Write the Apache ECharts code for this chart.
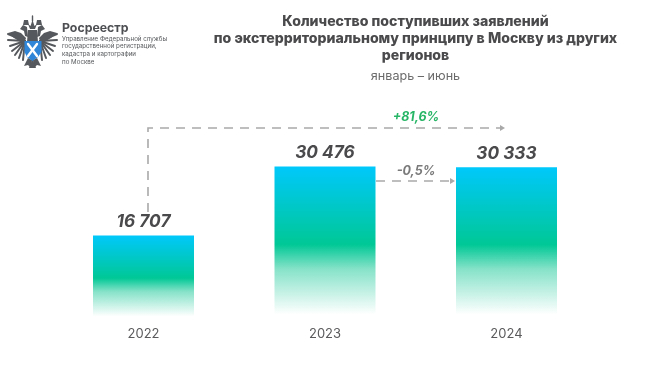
<!DOCTYPE html>
<html><head><meta charset="utf-8">
<style>html,body{margin:0;padding:0;background:#fff}#c{width:650px;height:373px}</style>
<script src="https://cdn.jsdelivr.net/npm/echarts@6/dist/echarts.min.js"></script>
</head><body><div id="c"></div>
<script>
const categories = ['2022','2023','2024'];
const values = [16707,30476,30333];
const valueLabels = ['16 707','30 476','30 333'];
const titleLines = ['Количество поступивших заявлений','по экстерриториальному принципу в Москву из других','регионов'];
const subtitle = 'январь – июнь';
const orgName = 'Росреестр';
const orgLines = ['Управление Федеральной службы','государственной регистрации,','кадастра и картографии','по Москве'];
const FONT = 'Inter';
const chart = echarts.init(document.getElementById('c'),null,{renderer:'canvas'});
const dark='#4a4a4c', grey='#a9a9a9', eagle='#55585c';
const text=(x,y,t,o)=>({type:'text',x,y,style:Object.assign({text:t,fontFamily:FONT,textAlign:'center',textVerticalAlign:'middle',fill:dark},o)});
const mirror=p=>p.map(q=>[65-q[0],q[1]]);
const poly=(pts,fill)=>({type:'polygon',shape:{points:pts},style:{fill}});
const stroke=(a,b,w,c)=>({type:'line',shape:{x1:a[0],y1:a[1],x2:b[0],y2:b[1]},style:{stroke:c||eagle,lineWidth:w,lineCap:'round'}});
const shoulder=[25,41];
const tips=[[8,34],[8,40],[10,46],[12,51],[15,55],[19,58],[23,60]];
const emblem=[];
tips.forEach(t=>{[[shoulder,t]].forEach(l=>{emblem.push(stroke(l[0],l[1],2));emblem.push(stroke([65-l[0][0],l[0][1]],[65-l[1][0],l[1][1]],2));});});
const shapes=[
 [[8,33],[15,31],[21,33],[26,38],[24,44],[14,38]],      // upper wing
 [[20,29],[23,25],[27,27],[28,37],[25,36],[24,31]],      // neck and head
 [[24,20],[28,20],[29,25],[23,25]],                      // side crown
 [[28,58],[24,66],[28,65],[31,68],[32,60]]               // tail and claw
];
shapes.forEach(s=>{emblem.push(poly(s,eagle));emblem.push(poly(mirror(s),eagle));});
emblem.push(poly([[28,24],[30,29],[35,29],[37,24],[34.5,26],[32.5,20],[30.5,26]],eagle));
emblem.push(stroke([32.5,16],[32.5,21],1.4));
emblem.push(poly([[28,30],[37,30],[38,42],[27,42]],eagle));
emblem.push(poly([[32,60],[33,60],[36,68],[29,68]],eagle));
emblem.push(poly([[24.5,41],[41.5,41],[41.5,52],[38,57],[32.5,61],[27,57],[24.5,52]],'#2f86d8'));
emblem.push(stroke([28,44],[37,56],2.4,'#fff'));
emblem.push(stroke([37,44],[28,56],2.4,'#fff'));
const dash=(pts)=>({type:'polyline',shape:{points:pts},style:{stroke:grey,lineWidth:1.6,lineDash:[9,7],fill:null}});
const head=(x,y)=>poly([[x,y-3],[x+5,y],[x,y+3]],grey);
chart.setOption({
 animation:false,
 backgroundColor:'#fff',
 grid:{left:52.75,width:544.5,top:119,height:200},
 xAxis:{type:'category',data:categories,axisLine:{show:false},axisTick:{show:false},
  axisLabel:{margin:9,fontFamily:FONT,fontSize:13,color:'#5a5a5c'}},
 yAxis:{type:'value',min:0,max:40000,show:false},
 series:[{type:'bar',barWidth:101,data:values,
  itemStyle:{color:{type:'linear',x:0,y:0,x2:0,y2:1,colorStops:[
   {offset:0,color:'#00c8fb'},{offset:0.51,color:'#00c896'},{offset:0.67,color:'#85e2c8'},{offset:0.97,color:'#ffffff'}]}},
  label:{show:true,position:'top',distance:5,formatter:p=>valueLabels[p.dataIndex],
   fontFamily:FONT,fontStyle:'italic',fontWeight:700,fontSize:17.3,color:dark}}],
 graphic:[
  ...emblem,
  text(62,28.5,orgName,{textAlign:'left',fontSize:12.3,fontWeight:700,fill:'#4d4f52'}),
  ...orgLines.map((t,i)=>text(62,39+i*7.6,t,{textAlign:'left',fontSize:6.2,fill:'#55575a'})),
  ...titleLines.map((t,i)=>text(415.5,21.5+i*17,t,{fontSize:14.1,fontWeight:800})),
  text(415.5,76,subtitle,{fontSize:12.6,fill:'#6a6a6a'}),
  dash([[148,212],[148,128],[500,128]]),head(500,128),
  dash([[376,181],[449,181]]),head(450,181),
  text(416,117,'+81,6%',{fontSize:12.5,fontWeight:700,fontStyle:'italic',fill:'#27b566'}),
  text(416,171,'-0,5%',{fontSize:12.5,fontWeight:700,fontStyle:'italic',fill:'#7a7a7a'})
 ]
});
</script></body></html>
